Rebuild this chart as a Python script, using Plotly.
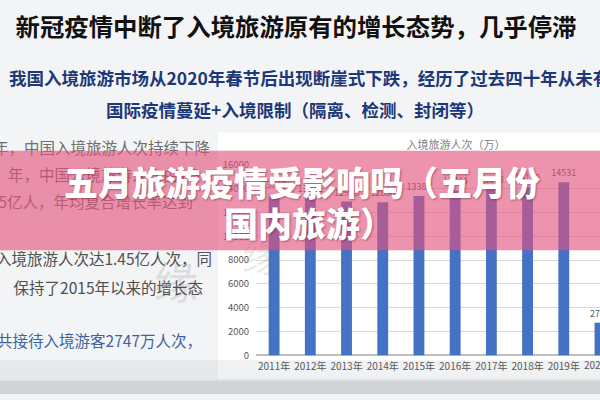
import plotly.graph_objects as go

# ---------------- data ----------------
years = ["2011年", "2012年", "2013年", "2014年", "2015年", "2016年",
         "2017年", "2018年", "2019年", "2020年"]
visitors = [13542, 13241, 12908, 12850, 13382, 13844, 13948, 14120, 14531, 2747]
y_tick_values = [0, 2000, 4000, 6000, 8000, 10000, 12000, 14000, 16000]

page_title = "新冠疫情中断了入境旅游原有的增长态势，几乎停滞"
subtitle_1 = "我国入境旅游市场从2020年春节后出现断崖式下跌，经历了过去四十年从未有过的困境"
subtitle_2 = "国际疫情蔓延+入境限制（隔离、检测、封闭等）"
chart_title = "入境旅游人次（万）"
side_lines = ["年，中国入境旅游人次持续下降",
              "年，中国入境旅游人次由1.3",
              "5亿人，年均复合增长率达到",
              "入境旅游人次达1.45亿人次，同",
              "保持了2015年以来的增长态",
              "国共接待入境游客2747万人次，"]
banner_lines = ["五月旅游疫情受影响吗（五月份", "国内旅游）"]

W, H = 600, 400
FONT = "Noto Sans CJK SC"

fig = go.Figure()

fig.add_trace(go.Bar(
    x=years, y=visitors, width=0.3,
    marker=dict(color="#4472c4", line=dict(width=0)),
    text=[str(v) for v in visitors], textposition="outside",
    textfont=dict(family=FONT, size=9, color="#595959"),
    constraintext="none", cliponaxis=True,
    xaxis="x", yaxis="y", showlegend=False, hoverinfo="skip",
))

def txt(x, y, s, size, color, pos="middle right", weight="normal", clip=False):
    fig.add_trace(go.Scatter(
        x=[x], y=[y], text=[s], mode="text", textposition=pos,
        textfont=dict(family=FONT, size=size, color=color, weight=weight),
        xaxis="x2", yaxis="y2", showlegend=False, hoverinfo="skip",
        cliponaxis=clip,
    ))

# faint calligraphy watermarks
txt(176, 290, "缘", 44, "rgba(120,120,120,0.20)", "middle center")
txt(262, 262, "缘", 40, "rgba(120,120,120,0.16)", "middle center")

txt(296, 23, page_title, 24.4, "#111111", "middle center", "bold", clip=True)
txt(9, 75, subtitle_1, 17.5, "#1d3878", "middle right", "bold", clip=True)
txt(295, 108, subtitle_2, 17.5, "#1d3878", "middle center", "bold", clip=True)
txt(456, 143, chart_title, 11, "#7f7f7f", "middle center")
# last category label sits on the right edge of the page
txt(600, 372, years[-1], 10, "#595959", "middle center", clip=True)

side_right = [210, 200, 193, 212, 203, 202]
side_y = [147, 175, 203, 262, 292, 347]
side_col = ["#6e6e6e", "#6e6e6e", "#6e6e6e", "#505050", "#505050", "#3f62a0"]
for sx, sy, s, c in zip(side_right, side_y, side_lines, side_col):
    txt(sx, sy, s, 15.5, c, "middle left", clip=True)

# ---------------- layout ----------------
shapes = [
    dict(type="rect", xref="paper", yref="paper", x0=218 / W, x1=1.0,
         y0=(H - 384) / H, y1=(H - 129) / H, fillcolor="white",
         line=dict(width=0), layer="below"),
    dict(type="rect", xref="paper", yref="paper", x0=0, x1=1,
         y0=0, y1=(H - 365) / H, fillcolor="rgba(170,176,182,0.18)",
         line=dict(width=0), layer="below"),
    dict(type="rect", xref="paper", yref="paper", x0=0, x1=1,
         y0=0, y1=(H - 386) / H, fillcolor="rgba(160,166,172,0.30)",
         line=dict(width=0), layer="below"),
    dict(type="rect", xref="paper", yref="paper", x0=0, x1=1,
         y0=(H - 251) / H, y1=(H - 148) / H,
         fillcolor="rgba(228,80,122,0.62)", line=dict(width=0), layer="above"),
]

annotations = [
    dict(xref="paper", yref="paper", x=302 / W, y=(H - 180) / H,
         text=banner_lines[0], showarrow=False, xanchor="center", yanchor="middle",
         font=dict(family=FONT, size=34, color="white", weight=900,
                   shadow="1px 1px 2px rgba(90,20,40,0.45)")),
    dict(xref="paper", yref="paper", x=309 / W, y=(H - 222) / H,
         text=banner_lines[1], showarrow=False, xanchor="center", yanchor="middle",
         font=dict(family=FONT, size=34, color="white", weight=900,
                   shadow="1px 1px 2px rgba(90,20,40,0.45)")),
]

fig.update_layout(
    width=W, height=H,
    margin=dict(l=0, r=0, t=0, b=0),
    paper_bgcolor="#f3f4f5",
    plot_bgcolor="rgba(0,0,0,0)",
    xaxis=dict(domain=[256 / W, 1.0], range=[-0.5, 9.0], type="category",
               tickvals=years[:-1],
               showgrid=False, showline=False, zeroline=False, ticks="",
               tickfont=dict(family=FONT, size=10, color="#595959"),
               ticklabelstandoff=4, anchor="y", fixedrange=True),
    yaxis=dict(domain=[(H - 360) / H, (H - 162.4) / H], range=[0, 16000],
               tickvals=y_tick_values, tickformat="d", showgrid=True, gridcolor="#d9d9d9",
               zeroline=True, zerolinecolor="#bfbfbf", showline=False, ticks="",
               tickfont=dict(family=FONT, size=9.5, color="#595959"),
               ticklabelstandoff=6, anchor="x", fixedrange=True),
    xaxis2=dict(domain=[0, 1], range=[0, W], visible=False, anchor="y2", fixedrange=True),
    yaxis2=dict(domain=[0, 1], range=[H, 0], visible=False, anchor="x2", fixedrange=True),
    shapes=shapes,
    annotations=annotations,
    showlegend=False,
)

fig.write_html(
    "out.html",
    config={"displayModeBar": False},
    post_script=("document.documentElement.style.margin='0';"
                 "document.body.style.margin='0';"
                 "document.documentElement.style.overflow='hidden';"),
)
